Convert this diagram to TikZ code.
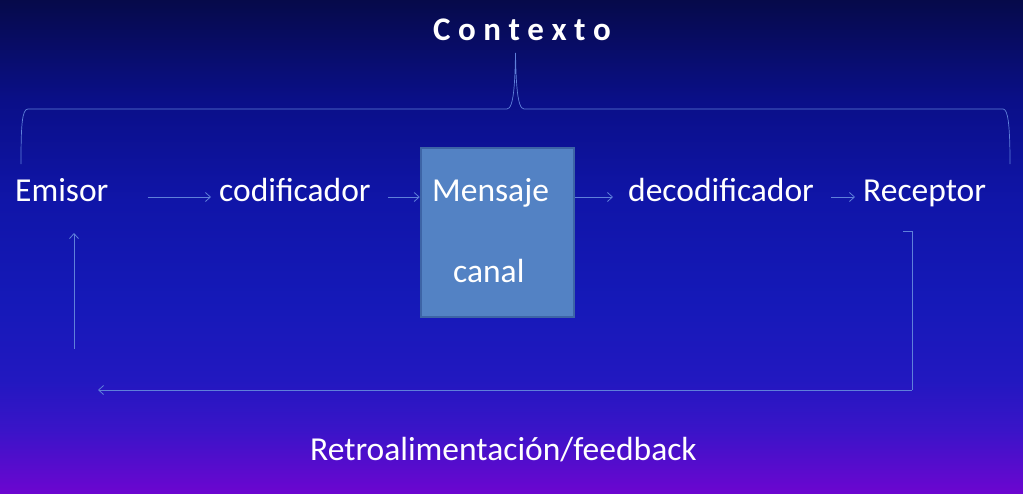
\documentclass[tikz,border=0pt]{standalone}
\usepackage{fontspec}
\setmainfont{Carlito}
\usetikzlibrary{arrows.meta,calc}
\definecolor{bgA}{HTML}{6C06D0}
\definecolor{bgB}{HTML}{3A14C8}
\definecolor{bgC}{HTML}{2218C0}
\definecolor{bgD}{HTML}{1519B8}
\definecolor{bgE}{HTML}{1015A8}
\definecolor{bgF}{HTML}{0A0F88}
\definecolor{bgG}{HTML}{060A4A}
\definecolor{linec}{HTML}{5F80DA}
\definecolor{boxfill}{HTML}{5382C4}
\definecolor{boxline}{HTML}{3D64A6}
\pgfdeclareverticalshading{bgshade}{100bp}{color(0bp)=(bgA); color(25bp)=(bgA); color(31.39bp)=(bgB); color(36.46bp)=(bgC); color(44.57bp)=(bgD); color(54.71bp)=(bgE); color(64.86bp)=(bgF); color(75bp)=(bgG); color(100bp)=(bgG)}
\begin{document}
\begin{tikzpicture}[x=1pt,y=-1pt,
  lbl/.style={text=white,inner sep=0pt,anchor=base west,font=\fontsize{33.5}{40}\selectfont},
  conn/.style={draw=linec,line width=0.8pt},
  arr/.style={conn,-{Straight Barb[length=5pt,width=9pt,line width=0.8pt]}}]
\useasboundingbox (0,0) rectangle (1023,493);
\shade[shading=bgshade] (0,0) rectangle (1023,493);
% title
\node[text=white,inner sep=0pt,anchor=base,font=\bfseries\fontsize{33}{40}\selectfont] (ctx) at (522,40) {C o n t e x t o};
% brace
\draw[conn,line width=0.7pt] (21,164) .. controls (21,125) and (22,109) .. (28,109)
  -- (507,109) .. controls (514,109) and (515,80) .. (515.5,53)
  .. controls (516,80) and (517,109) .. (524,109)
  -- (1003,109) .. controls (1008,109) and (1010,125) .. (1010,164);
% box
\node[draw=boxline,fill=boxfill,line width=2.5pt,minimum width=153pt,minimum height=169pt,inner sep=0pt] (box) at (497.5,232.5) {};
% labels
\node[lbl] (emisor) at (15,201) {Emisor};
\node[lbl] (cod) at (219,201) {codificador};
\node[lbl] (msg) at (432,201) {Mensaje};
\node[lbl] (canal) at (453,282) {canal};
\node[lbl] (dec) at (628,201) {decodificador};
\node[lbl] (rec) at (863,201) {Receptor};
\node[lbl] (retro) at (310,460) {Retroalimentación/feedback};
% arrows
\draw[arr] ($(emisor.base east)+(39,-4)$) -- ($(cod.base west)+(-8,-4)$);
\draw[arr] ($(cod.base east)+(17,-4)$) -- (box.west |- {$(cod.base)+(0,-4)$});
\draw[arr] (box.east |- {$(dec.base)+(0,-4)$}) -- ($(dec.base west)+(-15,-4)$);
\draw[arr] ($(dec.base east)+(17,-4)$) -- ($(rec.base west)+(-8,-4)$);
% feedback
\coordinate (fbend) at (98,390);
\draw[conn] ($(rec.base west)+(40,30)$) -| ($(rec.base west)+(49,189)$);
\draw[arr] ($(rec.base west)+(49,189)$) -- (fbend);
\draw[arr] ($(emisor.base west)+(59,148)$) -- ($(emisor.base west)+(59,32)$);
\end{tikzpicture}
\end{document}
